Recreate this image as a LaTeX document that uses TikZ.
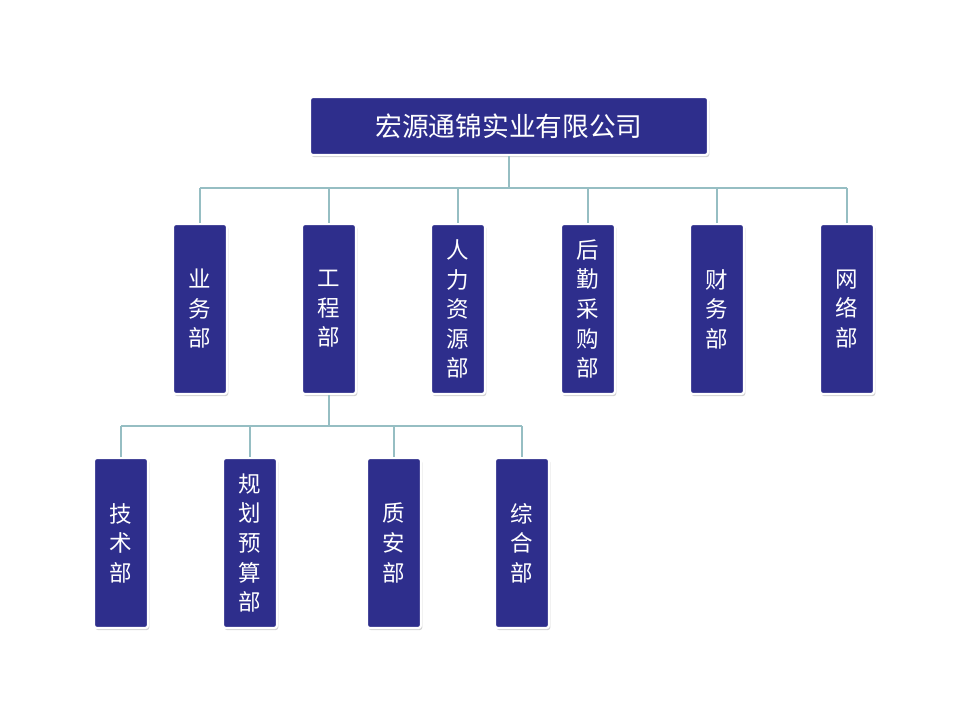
\documentclass[tikz,border=0pt]{standalone}
\usepackage{fontspec}
\newfontfamily\cjk{Noto Sans CJK SC}
\usetikzlibrary{shadows}
\definecolor{boxblue}{RGB}{46,46,140}
\definecolor{linkteal}{RGB}{150,190,195}
\tikzset{
  dept/.style={draw=white, line width=1.6pt, fill=boxblue, rounded corners=2pt,
    drop shadow={opacity=0.35, shadow xshift=1pt, shadow yshift=-1.5pt},
    text=white, font=\cjk\fontsize{16}{21}\selectfont, align=center,
    minimum width=1.35cm, minimum height=4.25cm, inner sep=0pt},
  link/.style={draw=linkteal, line width=2pt}
}
\begin{document}
\begin{tikzpicture}[x=0.025cm, y=-0.025cm]
\useasboundingbox (0,0) rectangle (979,726);

% company
\node[dept, minimum width=9.95cm, minimum height=1.45cm,
  font=\cjk\fontsize{19}{23}\selectfont] (top) at (509,126) {宏源通锦实业有限公司};

% departments
\node[dept] (yw) at (200,309) {业\\务\\部};
\node[dept] (gc) at (329,309) {工\\程\\部};
\node[dept] (rl) at (458,309) {人\\力\\资\\源\\部};
\node[dept] (hq) at (588,309) {后\\勤\\采\\购\\部};
\node[dept] (cw) at (717,309) {财\\务\\部};
\node[dept] (wl) at (847,309) {网\\络\\部};

% under engineering
\node[dept] (js) at (121,543) {技\\术\\部};
\node[dept] (gh) at (250,543) {规\\划\\预\\算\\部};
\node[dept] (za) at (394,543) {质\\安\\部};
\node[dept] (zh) at (522,543) {综\\合\\部};

\coordinate (bar1) at (509,188);
\coordinate (bar2) at (329,426);

\begin{scope}[on background layer/.style={}]
\draw[link] (top.south) -- (bar1);
\foreach \n in {yw,gc,rl,hq,cw,wl}
  \draw[link] (bar1 -| \n.north) -- (\n.north);
\draw[link] (bar1 -| yw.north) -- (bar1 -| wl.north);
\draw[link] (gc.south) -- (bar2);
\foreach \n in {js,gh,za,zh}
  \draw[link] (bar2 -| \n.north) -- (\n.north);
\draw[link] (bar2 -| js.north) -- (bar2 -| zh.north);
\end{scope}
\end{tikzpicture}
\end{document}
